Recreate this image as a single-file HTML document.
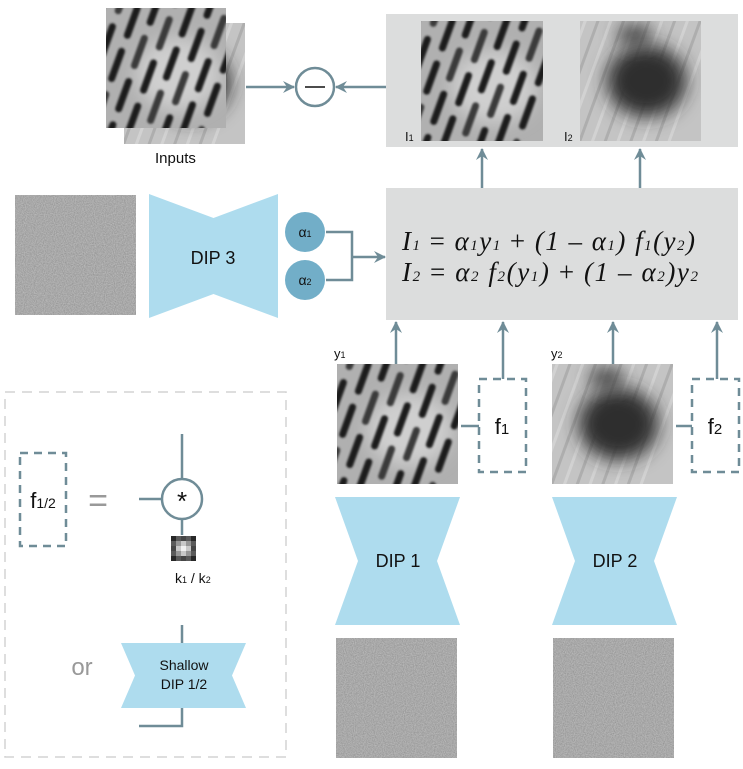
<!DOCTYPE html>
<html><head><meta charset="utf-8"><style>
html,body{margin:0;padding:0;background:#fff;}
svg{display:block;}
text{font-family:"Liberation Sans",sans-serif;}
text.serif{font-family:"Liberation Serif",serif;}
</style></head><body>
<svg id="fig" width="743" height="769" viewBox="0 0 743 769" xmlns="http://www.w3.org/2000/svg">
<defs>
<filter id="noise" x="0" y="0" width="100%" height="100%">
<feTurbulence type="fractalNoise" baseFrequency="0.9" numOctaves="2" seed="3"/>
<feColorMatrix type="matrix" values="0 0 0 0 0.52  0 0 0 0 0.52  0 0 0 0 0.52  1.2 0 0 0 -0.1"/>
<feComposite in2="SourceGraphic" operator="over"/>
</filter>
<filter id="blur1"><feGaussianBlur stdDeviation="1"/></filter>
<filter id="blur6" x="-100%" y="-100%" width="300%" height="300%"><feGaussianBlur stdDeviation="9"/></filter>
<marker id="ah" viewBox="0 0 12 12" refX="11" refY="6" markerWidth="12" markerHeight="12" markerUnits="userSpaceOnUse" orient="auto">
<path d="M0,0 L12,6 L0,12 L4,6 Z" fill="#6f8c97"/></marker>
</defs>
<g id="content"></g>
<g stroke="#6f8c97" stroke-width="2.5" fill="none">
<line x1="246" y1="87" x2="294" y2="87" marker-end="url(#ah)"/>
<line x1="386" y1="87" x2="336" y2="87" marker-end="url(#ah)"/>
<line x1="482" y1="188" x2="482" y2="149" marker-end="url(#ah)"/>
<line x1="640" y1="188" x2="640" y2="149" marker-end="url(#ah)"/>
<polyline points="326,232 352,232 352,280 326,280"/>
<line x1="352" y1="257" x2="385" y2="257" marker-end="url(#ah)"/>
<line x1="396" y1="364" x2="396" y2="322" marker-end="url(#ah)"/>
<line x1="503" y1="379" x2="503" y2="322" marker-end="url(#ah)"/>
<line x1="613" y1="364" x2="613" y2="322" marker-end="url(#ah)"/>
<line x1="717" y1="379" x2="717" y2="322" marker-end="url(#ah)"/>
<line x1="461" y1="426" x2="479" y2="426"/>
<line x1="676" y1="426" x2="692" y2="426"/>
<line x1="182" y1="434" x2="182" y2="479"/>
<line x1="182" y1="519" x2="182" y2="535"/>
<line x1="139" y1="499" x2="162" y2="499"/>
<line x1="182" y1="625" x2="182" y2="643"/>
<polyline points="182,708 182,726 139,726"/>
</g>
</svg>
<script>
const NS='http://www.w3.org/2000/svg';
const root=document.getElementById('content');
function mk(tag,attrs,parent){const e=document.createElementNS(NS,tag);for(const k in attrs)e.setAttribute(k,attrs[k]);(parent||root).appendChild(e);return e;}
let cid=0;
function slots(x,y,w,h,name){
  const g=mk('g',{});
  
  
  const id='c'+(cid++);
  const cp=mk('clipPath',{id:id},g);mk('rect',{x:x,y:y,width:w,height:h},cp);
  const inner=mk('g',{'clip-path':'url(#'+id+')'},g);
  mk('rect',{x:x,y:y,width:w,height:h,fill:'#b0b0b0'},inner);
  mk('ellipse',{cx:x+w*0.6,cy:y+h*0.55,rx:w*0.35,ry:h*0.3,fill:'#cfcfcf',filter:'url(#blur6)'},inner);
  const sg=mk('g',{filter:'url(#blur1)',transform:'rotate(20 '+(x+w/2)+' '+(y+h/2)+')'},inner);
  for(let c=-3;c<8;c++){for(let r=-2;r<5;r++){
    const off=(c%2)*20;
    mk('rect',{x:x+c*17-8,y:y+r*46+off-10,width:7,height:36,rx:3.5,fill:(c+r)%3==0?'#3a3a3a':'#1e1e1e'},sg);
  }}
  return g;
}
function blob(x,y,w,h,name){
  const g=mk('g',{});
  
  
  const id='c'+(cid++);
  const cp=mk('clipPath',{id:id},g);mk('rect',{x:x,y:y,width:w,height:h},cp);
  const inner=mk('g',{'clip-path':'url(#'+id+')'},g);
  mk('rect',{x:x,y:y,width:w,height:h,fill:'#c4c4c4'},inner);
  const sg=mk('g',{transform:'rotate(20 '+(x+w/2)+' '+(y+h/2)+')',opacity:0.35},inner);
  for(let c=-3;c<10;c++){mk('line',{x1:x+c*12,y1:y-30,x2:x+c*12,y2:y+h+30,stroke:c%2?'#eee':'#888','stroke-width':3},sg);}
  mk('ellipse',{cx:x+w*0.55,cy:y+h*0.5,rx:w*0.33,ry:h*0.3,fill:'#2e2e2e',filter:'url(#blur6)'},inner);
  mk('ellipse',{cx:x+w*0.45,cy:y+h*0.12,rx:w*0.14,ry:h*0.1,fill:'#444',filter:'url(#blur6)'},inner);
  return g;
}
function noise(x,y,w,h,name){
  const r=mk('rect',{x:x,y:y,width:w,height:h,fill:'#8e8e8e',filter:'url(#noise)'});
  
  
}
function bowtie(x,y,w,h,inset,vertical,name){
  let pts;
  if(vertical) pts=[[x,y],[x+w,y],[x+w-inset,y+h/2],[x+w,y+h],[x,y+h],[x+inset,y+h/2]];
  else pts=[[x,y],[x+w/2,y+inset],[x+w,y],[x+w,y+h],[x+w/2,y+h-inset],[x,y+h]];
  const p=mk('polygon',{points:pts.map(q=>q.join(',')).join(' '),fill:'#aedcee'});
  
  
}
function txt(x,y,s,size,attrs,name){
  const t=mk('text',Object.assign({x:x,y:y,'font-size':size,fill:'#111'},attrs||{}));
  t.innerHTML=s;
  
  
  return t;
}
let b=mk('rect',{x:386,y:14,width:352,height:133,fill:'#dcdddd'});

b=mk('rect',{x:386,y:188,width:352,height:132,fill:'#dcdddd'});

blob(124,23,121,121,'input-image-back');
slots(106,8,120,120,'input-image-front');
txt(155,163,'Inputs',15,{},'inputs-label');
let c=mk('circle',{cx:315,cy:87,r:19,fill:'#fff',stroke:'#6f8c97','stroke-width':2.5});

let l=mk('line',{x1:305,y1:87,x2:325,y2:87,stroke:'#111','stroke-width':1.5});

slots(421,21,122,120,'output-image-i1');
blob(580,21,121,120,'output-image-i2');
txt(405,141,'I<tspan font-size="9">1</tspan>',13,{},'i1-label');
txt(564,141,'I<tspan font-size="9">2</tspan>',13,{},'i2-label');
txt(402,250,'<tspan font-style="italic">I<tspan font-size="15">1</tspan></tspan> = <tspan font-style="italic">α<tspan font-size="15">1</tspan>y<tspan font-size="15">1</tspan></tspan> + <tspan font-style="italic">(1 – α<tspan font-size="15">1</tspan>) f<tspan font-size="15">1</tspan>(y<tspan font-size="15">2</tspan>)</tspan>',27,{'class':'serif','textLength':293,'lengthAdjust':'spacing'},'equation-i1');
txt(402,281,'<tspan font-style="italic">I<tspan font-size="15">2</tspan></tspan> = <tspan font-style="italic">α<tspan font-size="15">2</tspan> f<tspan font-size="15">2</tspan>(y<tspan font-size="15">1</tspan>)</tspan> + <tspan font-style="italic">(1 – α<tspan font-size="15">2</tspan>)y<tspan font-size="15">2</tspan></tspan>',27,{'class':'serif','textLength':296,'lengthAdjust':'spacing'},'equation-i2');
noise(15,195,121,120,'noise-input-3');
bowtie(149,194,129,124,24,false,'dip3-network');
txt(213,264,'DIP 3',18,{'text-anchor':'middle'},'dip3-label');
[[232,'1','alpha1-node'],[280,'2','alpha2-node']].forEach(a=>{
  const cc=mk('circle',{cx:305,cy:a[0],r:20,fill:'#72aec8'});
  
  txt(305,a[0]+5,'α<tspan font-size="9">'+a[1]+'</tspan>',14,{'text-anchor':'middle'},a[2]+'-label');
});
txt(334,358,'y<tspan font-size="9">1</tspan>',13,{},'y1-label');
txt(551,358,'y<tspan font-size="9">2</tspan>',13,{},'y2-label');
slots(337,364,121,120,'y1-image');
blob(552,364,121,120,'y2-image');
[[479,'f<tspan font-size="15">1</tspan>','f1-box'],[692,'f<tspan font-size="15">2</tspan>','f2-box']].forEach(f=>{
  const r=mk('rect',{x:f[0],y:379,width:47,height:93,fill:'none',stroke:'#6f8c97','stroke-width':2.5,'stroke-dasharray':'8,6'});
  
  txt(f[0]+23,434,f[1],22,{'text-anchor':'middle'},f[2]+'-label');
});
bowtie(335,497,125,128,23,true,'dip1-network');
txt(398,567,'DIP 1',18,{'text-anchor':'middle'},'dip1-label');
bowtie(552,497,125,128,23,true,'dip2-network');
txt(615,567,'DIP 2',18,{'text-anchor':'middle'},'dip2-label');
noise(336,638,121,120,'noise-input-1');
noise(553,638,121,120,'noise-input-2');
let d=mk('rect',{x:5,y:392,width:281,height:365,fill:'none',stroke:'#d4d4d4','stroke-width':1.5,'stroke-dasharray':'10,7'});

d=mk('rect',{x:20,y:453,width:46,height:93,fill:'none',stroke:'#6f8c97','stroke-width':2.5,'stroke-dasharray':'8,6'});

txt(43,508,'f<tspan font-size="14">1/2</tspan>',22,{'text-anchor':'middle'},'f12-label');
txt(98,512,'=',34,{'text-anchor':'middle',fill:'#999'},'equals-sign');
c=mk('circle',{cx:182,cy:499,r:20,fill:'#fff',stroke:'#6f8c97','stroke-width':2.5});

txt(182,510,'*',26,{'text-anchor':'middle'},'convolution-symbol');
const kg=mk('g',{});
const kv=[[40,90,70,90,40],[90,150,200,150,90],[70,200,240,200,70],[90,150,200,150,90],[40,90,70,90,40]];
kv.forEach((row,i)=>row.forEach((v,j)=>mk('rect',{x:171+j*5,y:536+i*5,width:5,height:5,fill:'rgb('+v+','+v+','+v+')'},kg)));
txt(175,583,'k<tspan font-size="9">1</tspan> / k<tspan font-size="9">2</tspan>',14,{},'kernel-label');
txt(82,675,'or',24,{'text-anchor':'middle',fill:'#999'},'or-label');
bowtie(121,643,125,65,14,true,'shallow-dip-network');
txt(184,670,'Shallow',14,{'text-anchor':'middle'},'shallow-label');
txt(184,689,'DIP 1/2',14,{'text-anchor':'middle'},'shallow-dip-label');
</script>
</body></html>
